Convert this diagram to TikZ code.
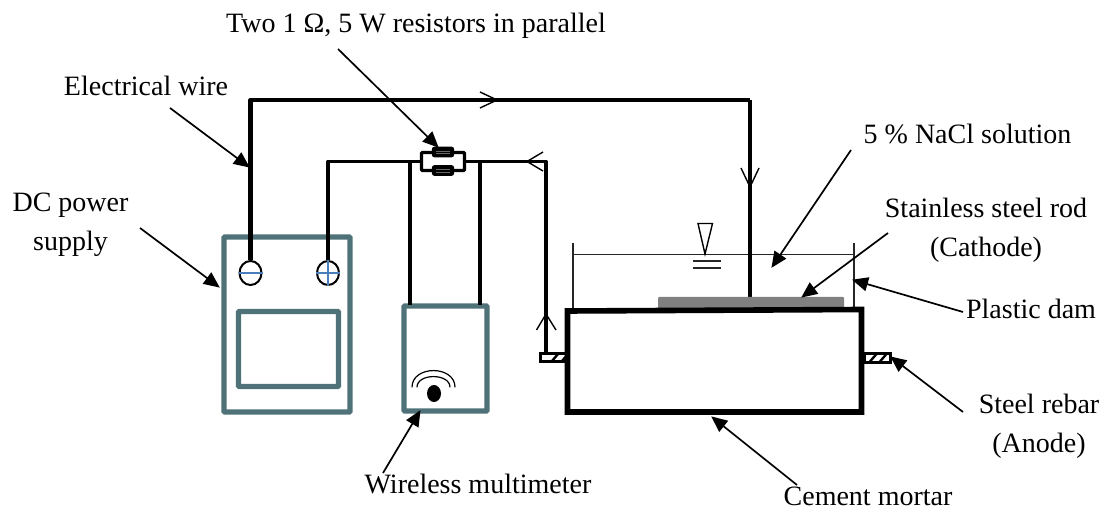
\documentclass[tikz,border=0pt]{standalone}
\usepackage{fontspec}
\setmainfont{Liberation Serif}
\usetikzlibrary{arrows.meta,shapes.geometric}
\definecolor{teal}{HTML}{4F7279}
\definecolor{tblue}{HTML}{4A7EBB}
\tikzset{
  x=1pt,y=-1pt,
  lab/.style={font=\fontsize{28}{38.7}\selectfont,inner sep=0pt,text=black},
  devbox/.style={draw=teal,line width=5.4pt,fill=white,rounded corners=1pt,inner sep=0pt},
  wire/.style={draw=black,line width=3.6pt,line join=round},
  heavywire/.style={draw=black,line width=4.2pt,line join=round},
  term/.style={draw=black,line width=2pt,ellipse,fill=white,minimum width=22pt,minimum height=24pt,inner sep=0pt},
  cross/.style={draw=tblue,line width=1.5pt},
  res/.style={draw=black,fill=black,line width=1.2pt,rounded corners=2pt,minimum width=21pt,minimum height=9.5pt,inner sep=0pt},
  ptr/.style={draw=black,line width=1.7pt,-{Triangle[length=16pt,width=14pt]},shorten >=-1pt},
  barb/.style={draw=black,line width=1.4pt},
  thinline/.style={draw=black!85,line width=1.3pt},
  rebar/.style={draw=black,line width=3pt,fill=white,inner sep=0pt},
}
\begin{document}
\begin{tikzpicture}
\useasboundingbox (0,0) rectangle (1102,510);
% devices
\node[devbox,minimum width=126pt,minimum height=175pt] (psu) at (287,324.5) {};
\node[devbox,minimum width=100pt,minimum height=75pt] (screen) at (288.5,349) {};
\node[devbox,minimum width=83pt,minimum height=105pt] (meter) at (445.5,358.5) {};
% rebars behind block
\node[rebar,minimum width=26pt,minimum height=8.5pt] (rebarL) at (553,357.5) {};
\node[rebar,minimum width=26pt,minimum height=8.5pt] (rebarR) at (877,358) {};
\foreach \cx/\cy in {555/357.5,565/357.5,873/358,883/358}
  \draw[black,line width=2.4pt] (\cx-3,\cy+3.5) -- (\cx+3,\cy-3.5);
% dam and water
\coordinate (damLt) at (573,243);
\coordinate (damLb) at (573,309);
\coordinate (damRt) at (854,243);
\coordinate (damRb) at (854,309);
\coordinate (waterL) at (573,254.5);
\coordinate (waterR) at (854,254.5);
\draw[thinline] (damLt) -- (damLb);
\draw[thinline] (damRt) -- (damRb);
\draw[thinline] (waterL) -- (waterR);
\coordinate (levelTip) at (705,254);
\draw[draw=black,line width=1.4pt,fill=white] (698,223.5) -- (712.5,223.5) -- (levelTip) -- cycle;
\draw[thinline] (693,261) -- (721,261);
\draw[thinline] (693,268) -- (721,268);
% wire that runs to the rod
\node[term] (minus) at (250.5,273) {};
\node[term] (plus) at (328,273) {};
\coordinate (top1) at (250.5,100);
\coordinate (top2) at (750,100);
\coordinate (rodtop) at (750,298);
\draw[heavywire] (minus.north) -- (top1) -- (top2);
\draw[wire] (top2) -- (rodtop);
% rod and block
\node[fill=black!50,rounded corners=1pt,minimum width=186pt,minimum height=12pt,inner sep=0pt] (rod) at (751,303) {};
\coordinate (bNW) at (567.5,311);
\coordinate (bNE) at (861.5,309.5);
\coordinate (bSE) at (861.5,412);
\coordinate (bSW) at (567.5,412);
\draw[draw=black,line width=5.6pt,fill=white,line join=miter] (bNW) -- (bNE) -- (bSE) -- (bSW) -- cycle;
\draw[black,line width=6.5pt] (bSW) -- (bSE);
% terminals
\draw[cross] (minus.west) -- (minus.east);
\draw[cross] (plus.west) -- (plus.east);
\draw[cross] (plus.north) -- (plus.south);
% resistors
\node[draw=black,line width=3.2pt,rounded corners=1pt,minimum width=43pt,minimum height=18pt,inner sep=0pt] (rbox) at (443,161.5) {};
\node[res] (r1) at (443,152) {};
\node[res] (r2) at (443,170.5) {};
\draw[black!60,line width=.5pt] (436,151) -- (450,151) (436,153.5) -- (450,153.5) (436,169.5) -- (450,169.5) (436,172) -- (450,172);
% wires
\coordinate (p2up) at (328,161.5);
\coordinate (rcorner) at (546,161.5);
\coordinate (tapL) at (410,161.5);
\coordinate (tapR) at (480,161.5);
\coordinate (meterL) at (410,305);
\coordinate (meterR) at (480,305);
\coordinate (rebarTop) at (546,353);
\draw[wire] (plus.north) -- (p2up) -- (rbox.west);
\draw[wire] (rbox.east) -- (rcorner) -- (rebarTop);
\draw[wire] (tapL) -- (meterL);
\draw[wire] (tapR) -- (meterR);
% open arrow marks
\draw[barb] (480,92) -- (497,100) -- (480,108);
\draw[barb] (741,168) -- (750,187) -- (759,168);
\draw[barb] (543,152) -- (527,161.5) -- (543,171);
\draw[barb] (536.5,330) -- (546,314) -- (556,330);
% wireless symbol
\node[fill=black,ellipse,minimum width=14pt,minimum height=17pt,inner sep=0pt] (dot) at (434,393.5) {};
\draw[black,line width=1.2pt] (412,387.3) .. controls (412,365) and (455,365) .. (455,387.3);
\draw[black,line width=1.2pt] (417,387.3) .. controls (417,373) and (450,373) .. (450,387.3);
% labels
\node[lab] (tworeg) at (416,25.5) {Two 1 Ω, 5 W resistors in parallel};
\node[lab] (elec) at (146,86.3) {Electrical wire};
\node[lab,align=center] (dc) at (70.5,225) {DC power\\supply};
\node[lab] (nacl) at (967.5,134) {5 \% NaCl solution};
\node[lab,align=center] (rodlab) at (986,230) {Stainless steel rod\\(Cathode)};
\node[lab] (dam) at (1031,309.2) {Plastic dam};
\node[lab,align=center] (steel) at (1039,426) {Steel rebar\\(Anode)};
\node[lab] (wm) at (478,484) {Wireless multimeter};
\node[lab] (cm) at (868,496) {Cement mortar};
% pointers
\coordinate (s1) at (338,49);   \coordinate (t1) at (438,147);
\coordinate (s2) at (170,108);  \coordinate (t2) at (249,167);
\coordinate (s3) at (140,228);  \coordinate (t3) at (219,287);
\coordinate (s4) at (383,473);  \coordinate (t4) at (420,411);
\coordinate (s5) at (851,150);  \coordinate (t5) at (772,267);
\coordinate (s6) at (888,233);  \coordinate (t6) at (802,297);
\coordinate (s7) at (963,312);  \coordinate (t7) at (853,280);
\coordinate (s8) at (963,412);  \coordinate (t8) at (891,357);
\coordinate (s9) at (797,485);  \coordinate (t9) at (712,417);
\draw[ptr] (s1) -- (t1);
\draw[ptr] (s2) -- (t2);
\draw[ptr] (s3) -- (t3);
\draw[ptr] (s4) -- (t4);
\draw[ptr] (s5) -- (t5);
\draw[ptr] (s6) -- (t6);
\draw[ptr] (s7) -- (t7);
\draw[ptr] (s8) -- (t8);
\draw[ptr] (s9) -- (t9);
\end{tikzpicture}
\end{document}
